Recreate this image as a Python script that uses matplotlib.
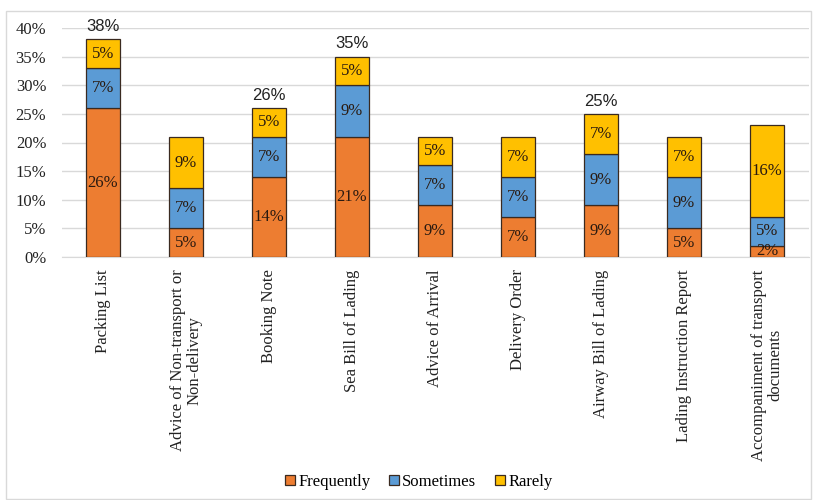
import numpy as np
import matplotlib.pyplot as plt
from matplotlib.patches import Rectangle

# ── Daten ──
categories = ["Packing List", "Advice of Non-transport or\nNon-delivery", "Booking Note",
              "Sea Bill of Lading", "Advice of Arrival", "Delivery Order",
              "Airway Bill of Lading", "Lading Instruction Report",
              "Accompaniment of transport\ndocuments"]
frequently = [26, 5, 14, 21, 9, 7, 9, 5, 2]
sometimes  = [7, 7, 7, 9, 7, 7, 9, 9, 5]
rarely     = [5, 9, 5, 5, 5, 7, 7, 7, 16]
totals_shown = [38, None, 26, 35, None, None, 25, None, None]
yticks = [0, 5, 10, 15, 20, 25, 30, 35, 40]

series_names  = ["Frequently", "Sometimes", "Rarely"]
series_colors = ["#ED7D31", "#5B9BD5", "#FFC000"]

SERIF = "Liberation Serif"
SANS  = "Liberation Sans"

fig = plt.figure(figsize=(8.13, 5.0), dpi=100)
ax = fig.add_axes([0.0757, 0.486, 0.9188, 0.458])

# heller Rahmen um die Grafik
fig.patches.append(Rectangle((0.007, 0.002), 0.99, 0.976, transform=fig.transFigure,
                             fill=False, edgecolor="#d9d9d9", lw=1.0))

x = np.arange(len(categories))
width = 0.41
bottom = np.zeros(len(categories))
for vals, name, col in zip([frequently, sometimes, rarely], series_names, series_colors):
    vals = np.array(vals, dtype=float)
    ax.bar(x, vals, width, bottom=bottom, color=col, edgecolor="#3a2a20",
           linewidth=0.9, label=name, zorder=3)
    for xi, v, b in zip(x, vals, bottom):
        ax.text(xi, b + v / 2, f"{v:.0f}%", ha="center", va="center",
                fontsize=12, family=SERIF, color="#2a1a10", zorder=4)
    bottom += vals

for xi, t, b in zip(x, totals_shown, bottom):
    if t is not None:
        ax.text(xi, b + 0.9, f"{t}%", ha="center", va="bottom",
                fontsize=12, family=SANS, color="#222222")

ax.set_xlim(-0.5, len(categories) - 0.5)
ax.set_ylim(0, 40)
ax.set_yticks(yticks)
ax.set_yticklabels([f"{t}%" for t in yticks], family=SERIF, fontsize=12)
ax.set_xticks(x)
ax.set_xticklabels(categories, rotation=90, family=SERIF, fontsize=12,
                   va="top", ha="center", linespacing=1.0)
ax.tick_params(axis="both", length=0, colors="#222222")
ax.tick_params(axis="x", pad=9)
ax.tick_params(axis="y", pad=11)
ax.yaxis.grid(True, color="#d9d9d9", lw=1.0, zorder=0)
ax.set_axisbelow(True)
for s in ["top", "right", "left"]:
    ax.spines[s].set_visible(False)
ax.spines["bottom"].set_color("#d9d9d9")

fig.legend(loc="lower center", bbox_to_anchor=(0.515, -0.01), ncol=3, frameon=False,
           prop={"family": SERIF, "size": 12}, handlelength=0.6, handleheight=0.6,
           handletextpad=0.2, columnspacing=1.1)

plt.savefig("out.png", dpi=100)
